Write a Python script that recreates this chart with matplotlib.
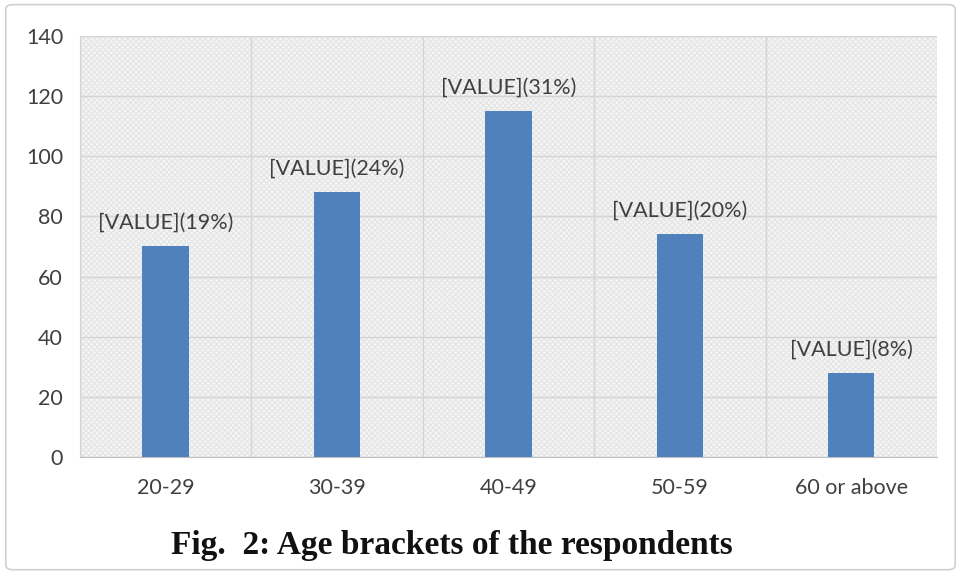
import matplotlib.pyplot as plt
import numpy as np
from matplotlib.patches import FancyBboxPatch, Rectangle

# Respondents per age bracket
age_groups = ["20-29", "30-39", "40-49", "50-59", "60 or above"]
counts = [70, 88, 115, 74, 28]
shares = ["19%", "24%", "31%", "20%", "8%"]
y_ticks = [0, 20, 40, 60, 80, 100, 120, 140]

plt.rcParams['font.family'] = ['Lato', 'DejaVu Sans']

fig = plt.figure(figsize=(9.61, 5.79), dpi=100)
ax = fig.add_axes([0.083, 0.2107, 0.892, 0.7273])

# outer chart frame
fig.patches.append(FancyBboxPatch((0.006, 0.016), 0.988, 0.976,
                                  boxstyle="round,pad=0,rounding_size=0.008",
                                  transform=fig.transFigure, facecolor='white',
                                  edgecolor='#d0d0d0', linewidth=1.2, zorder=-10))

x = np.arange(len(age_groups))
ax.set_xlim(-0.5, len(age_groups) - 0.5)
ax.set_ylim(0, 140)

# light patterned plot area
ax.set_facecolor('#f6f6f6')
ax.add_patch(Rectangle((0, 0), 1, 1, transform=ax.transAxes, facecolor='none',
                       edgecolor='#e6e6e6', hatch='xxxxxx', linewidth=0, zorder=0))

ax.bar(x, counts, width=0.27, color='#4f81bd', zorder=3)

for xi, c, s in zip(x, counts, shares):
    ax.text(xi, c + 4.5, f"[VALUE]({s})", ha='center', va='bottom',
            fontsize=15.5, color='#404040', zorder=4)

ax.set_yticks(y_ticks)
ax.set_xticks(x)
ax.set_xticklabels(age_groups)
ax.set_xticks(np.arange(len(age_groups) + 1) - 0.5, minor=True)
ax.tick_params(axis='both', which='both', length=0, labelsize=15.5,
               colors='#404040')
ax.tick_params(axis='x', pad=15)
ax.tick_params(axis='y', pad=12)
ax.grid(axis='y', which='major', color='#d4d4d4', linewidth=1, zorder=1)
ax.grid(axis='x', which='minor', color='#d4d4d4', linewidth=1, zorder=1)
ax.grid(axis='x', which='major', visible=False)

for side in ['top', 'right']:
    ax.spines[side].set_visible(False)
ax.spines['left'].set_color('#d4d4d4')
ax.spines['bottom'].set_color('#bfbfbf')

fig.text(0.47, 0.057, "Fig.  2: Age brackets of the respondents",
         ha='center', va='center', fontsize=24, fontweight='bold',
         family=['Liberation Serif', 'DejaVu Serif'], color='#111111')

fig.savefig('out.png', dpi=100)
